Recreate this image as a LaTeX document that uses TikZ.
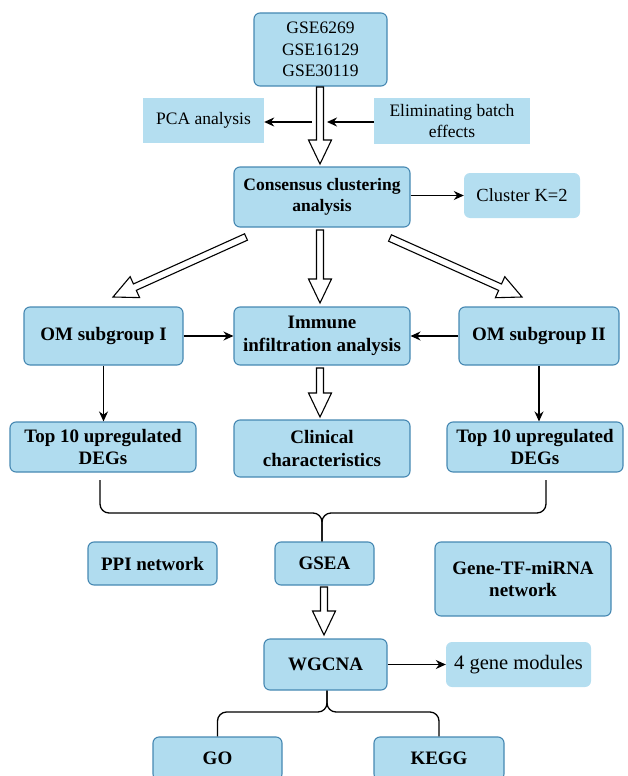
\documentclass[tikz,border=0pt]{standalone}
\usepackage{fontspec}
\IfFontExistsTF{LiberationSerif-Regular.ttf}{%
  \setmainfont{LiberationSerif-Regular.ttf}[BoldFont=LiberationSerif-Bold.ttf]}{%
  \setmainfont{Liberation Serif}}
\usetikzlibrary{calc,arrows.meta}
\definecolor{boxc}{RGB}{176,220,239}
\definecolor{boxd}{RGB}{70,136,178}
\definecolor{boxl}{RGB}{180,222,240}
\tikzset{
  box/.style={draw=boxd, fill=boxc, rounded corners=6pt, line width=1.1pt, inner sep=0pt, align=center},
  flatbox/.style={fill=boxl, inner sep=0pt, align=center},
  softbox/.style={fill=boxl, rounded corners=6pt, inner sep=0pt, align=center},
  bf/.style={font=\rmfamily\fontsize{19}{22.5}\selectfont\bfseries},
  bfs/.style={font=\rmfamily\fontsize{17.5}{21}\selectfont\bfseries},
  rm/.style={font=\rmfamily\fontsize{17.5}{21.5}\selectfont},
  conn/.style={line width=1.3pt, -{Stealth[length=10pt,width=9pt]}},
  brace/.style={line width=1.3pt, rounded corners=9pt},
  hollow/.style={draw=black, fill=white, line width=1.1pt, line join=miter},
}
\newcommand\harrow[2]{%
  \path ($(#2)!24pt!(#1)$) coordinate (hb);
  \draw[hollow] ($(#1)!3.5pt!90:(#2)$) -- ($(hb)!3.5pt!90:(#2)$) -- ($(hb)!11.5pt!90:(#2)$) -- (#2)
     -- ($(hb)!11.5pt!-90:(#2)$) -- ($(hb)!3.5pt!-90:(#2)$) -- ($(#1)!3.5pt!-90:(#2)$) -- cycle;}
\begin{document}
\begin{tikzpicture}[x=1pt,y=-1pt]
\useasboundingbox (0,0) rectangle (627,776);
\clip (0,0) rectangle (627,776);
% nodes
\node[box,rm,minimum width=133pt,minimum height=73pt] (gse) at (320.5,49.5) {GSE6269\\GSE16129\\GSE30119};
\node[flatbox,rm,minimum width=121pt,minimum height=45pt] (pca) at (203.5,120.5) {PCA analysis};
\node[flatbox,rm,minimum width=156pt,minimum height=46pt] (elim) at (452,121) {Eliminating batch\\effects};
\node[box,bfs,minimum width=176pt,minimum height=60pt] (cons) at (322,197) {Consensus clustering\\analysis};
\node[softbox,font=\rmfamily\fontsize{18.5}{22}\selectfont,minimum width=116pt,minimum height=45pt] (clus) at (522,195.5) {Cluster K=2};
\node[box,bf,minimum width=159pt,minimum height=58pt] (om1) at (103.5,336) {OM subgroup I};
\node[box,bf,minimum width=176pt,minimum height=58pt] (imm) at (322,336) {Immune\\infiltration analysis};
\node[box,bf,minimum width=160pt,minimum height=58pt] (om2) at (539,336) {OM subgroup II};
\node[box,bf,minimum width=186pt,minimum height=50pt] (topl) at (103,447) {Top 10 upregulated\\DEGs};
\node[box,bf,minimum width=176pt,minimum height=57pt] (clin) at (322,448.5) {Clinical\\characteristics};
\node[box,bf,minimum width=176pt,minimum height=50pt] (topr) at (535,447) {Top 10 upregulated\\DEGs};
\node[box,bf,minimum width=129pt,minimum height=43pt] (ppi) at (152.5,563.5) {PPI network};
\node[box,bf,minimum width=99pt,minimum height=43pt] (gsea) at (324.5,563.5) {GSEA};
\node[box,bf,minimum width=176pt,minimum height=74pt] (gtf) at (523,579) {Gene-TF-miRNA\\network};
\node[box,bf,minimum width=123pt,minimum height=51pt] (wgcna) at (325.5,664.5) {WGCNA};
\node[softbox,font=\rmfamily\fontsize{20.5}{24}\selectfont,minimum width=145pt,minimum height=45pt] (mods) at (518.5,664.5) {4 gene modules};
\node[box,bf,minimum width=129pt,minimum height=43pt] (go) at (217.5,758.5) {GO};
\node[box,bf,minimum width=130pt,minimum height=43pt] (kegg) at (439,758.5) {KEGG};
% helper coordinates
\coordinate (a1s) at (320,87);  \coordinate (a1e) at (320,164);
\coordinate (pcat) at (312,122);
\coordinate (elimt) at (327,122);
\coordinate (lds) at (246,237); \coordinate (lde) at (113,297);
\coordinate (mds) at (320,230); \coordinate (mde) at (320,303);
\coordinate (rds) at (390,238); \coordinate (rde) at (522,297);
\coordinate (ics) at (320,368); \coordinate (ice) at (320,417);
\coordinate (gws) at (324,587); \coordinate (gwe) at (324,635);
\coordinate (bl) at (100,480); \coordinate (br) at (546,480);
\coordinate (bm) at (322,513);
\coordinate (wm) at (327,712);
% hollow arrows
\harrow{a1s}{a1e}
\harrow{lds}{lde}
\harrow{mds}{mde}
\harrow{rds}{rde}
\harrow{ics}{ice}
\harrow{gws}{gwe}
% black arrows
\draw[conn] (pcat) -- (pca.east |- pcat);
\draw[conn] (elim.west |- elimt) -- (elimt);
\draw[conn] (cons.east |- clus.west) -- (clus.west);
\draw[conn] (om1.east) -- (imm.west);
\draw[conn] (om2.west) -- (imm.east);
\draw[conn] (om1.south) -- (om1.south |- topl.north);
\draw[conn] (om2.south) -- (om2.south |- topr.north);
\draw[conn] (wgcna.east) -- (mods.west);
% braces
\draw[brace] (bl) -- (bl |- bm) -- (bm) -- (bm |- gsea.north);
\draw[brace] (br) -- (br |- bm) -- (bm) -- (bm |- gsea.north);
\draw[brace] (wm |- wgcna.south) -- (wm) -- (wm -| go.north) -- (go.north);
\draw[brace] (wm |- wgcna.south) -- (wm) -- (wm -| kegg.north) -- (kegg.north);
\end{tikzpicture}
\end{document}
